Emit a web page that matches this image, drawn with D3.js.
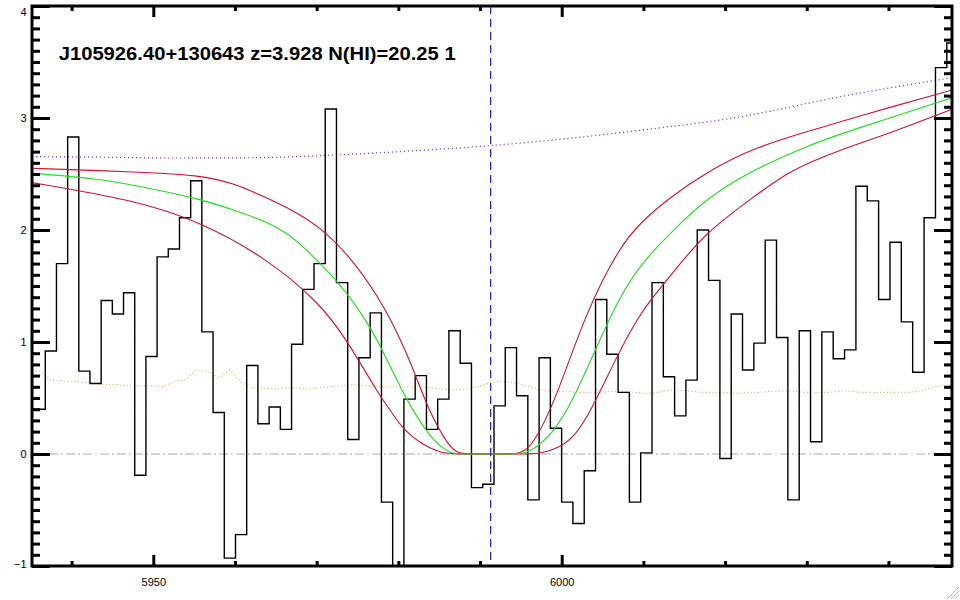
<!DOCTYPE html>
<html><head><meta charset="utf-8">
<script src="https://cdn.jsdelivr.net/npm/d3@7"></script>
<style>
html,body{margin:0;padding:0;background:#fff;}
svg{display:block;font-family:"Liberation Sans",Arial,Helvetica,sans-serif;}
</style></head><body>
<svg id="c" width="960" height="600"></svg>
<script>
// ---- data ----
const titleText = "J105926.40+130643 z=3.928 N(HI)=20.25 1";
const xDomain = [5935.15, 6047.78];
const yDomain = [-1, 4];
const xMajorTicks = [5950, 6000];
const xMinorTicks = [5940, 5960, 5970, 5980, 5990, 6010, 6020, 6030, 6040];
const yMajorTicks = [-1, 0, 1, 2, 3, 4];
const lyaLine = 5991.3;

const wave = [5934.73, 5936.09, 5937.46, 5938.83, 5940.20, 5941.56, 5942.93, 5944.30, 5945.67, 5947.04,
  5948.41, 5949.78, 5951.15, 5952.52, 5953.89, 5955.26, 5956.63, 5958.00, 5959.38, 5960.75,
  5962.12, 5963.49, 5964.87, 5966.24, 5967.61, 5968.99, 5970.36, 5971.74, 5973.11, 5974.49,
  5975.86, 5977.24, 5978.62, 5979.99, 5981.37, 5982.75, 5984.13, 5985.50, 5986.88, 5988.26,
  5989.64, 5991.02, 5992.40, 5993.78, 5995.16, 5996.54, 5997.92, 5999.30, 6000.68, 6002.06,
  6003.45, 6004.83, 6006.21, 6007.59, 6008.98, 6010.36, 6011.75, 6013.13, 6014.51, 6015.90,
  6017.28, 6018.67, 6020.06, 6021.44, 6022.83, 6024.22, 6025.60, 6026.99, 6028.38, 6029.77,
  6031.15, 6032.54, 6033.93, 6035.32, 6036.71, 6038.10, 6039.49, 6040.88, 6042.27, 6043.66,
  6045.06, 6046.45, 6047.84, 6049.23];

const flux = [0.40, 0.40, 0.92, 1.70, 2.83, 0.74, 0.63, 1.37, 1.25, 1.44,
  -0.19, 0.87, 1.76, 1.83, 2.11, 2.44, 1.09, 0.37, -0.93, -0.72,
  0.79, 0.27, 0.42, 0.22, 0.98, 1.47, 1.70, 3.08, 1.53, 0.13,
  0.86, 1.26, -0.43, -1.25, 0.49, 0.70, 0.22, 0.49, 1.10, 0.81,
  -0.30, -0.27, 0.43, 0.95, 0.52, -0.41, 0.86, 0.23, -0.43, -0.62,
  -0.15, 1.38, 0.89, 0.55, -0.43, 0.01, 1.53, 0.69, 0.34, 0.66,
  2.00, 1.55, -0.04, 1.25, 0.75, 0.99, 1.91, 1.04, -0.41, 1.10,
  0.11, 1.09, 0.85, 0.93, 2.39, 2.26, 1.38, 1.89, 1.18, 0.73,
  2.11, 3.45, 3.67, 3.67];

const fluxErr = [0.74, 0.74, 0.66, 0.65, 0.65, 0.64, 0.63, 0.62, 0.62, 0.61,
  0.61, 0.61, 0.60, 0.65, 0.66, 0.75, 0.74, 0.68, 0.75, 0.64,
  0.59, 0.59, 0.58, 0.59, 0.59, 0.58, 0.59, 0.60, 0.61, 0.62,
  0.61, 0.60, 0.60, 0.60, 0.60, 0.60, 0.59, 0.58, 0.57, 0.58,
  0.60, 0.63, 0.65, 0.64, 0.62, 0.59, 0.57, 0.56, 0.56, 0.55,
  0.55, 0.55, 0.56, 0.56, 0.55, 0.54, 0.55, 0.57, 0.57, 0.56,
  0.55, 0.55, 0.55, 0.54, 0.55, 0.55, 0.56, 0.56, 0.56, 0.55,
  0.55, 0.55, 0.56, 0.56, 0.55, 0.55, 0.55, 0.55, 0.55, 0.56,
  0.59, 0.61, 0.62, 0.62];

// continuum (purple dotted)
const contWave = [5935.15, 5943.48, 5952.04, 5961.84, 5970.41, 5980.20, 5991.22, 5999.79, 6009.58, 6021.83, 6034.07, 6047.78];
const contFlux = [2.655, 2.650, 2.643, 2.645, 2.664, 2.700, 2.753, 2.810, 2.890, 3.010, 3.190, 3.360];

// model (green)
const modelWave = [5935.15, 5943.48, 5947.52, 5955.72, 5959.79, 5963.88, 5966.33, 5968.36, 5970.41, 5972.45,
  5974.49, 5976.53, 5978.57, 5981.02, 5982.65, 5984.28, 5985.92, 5986.94, 5988.50, 5990.50,
  5992.50, 5994.49, 5995.50, 5996.52,
  5998.97, 6001.42, 6004.28, 6007.13, 6009.58, 6013.66, 6017.33, 6021.83, 6029.99, 6038.15, 6047.78];
const modelFlux = [2.507, 2.456, 2.402, 2.278, 2.180, 2.075, 1.975, 1.850, 1.704, 1.545,
  1.360, 1.140, 0.850, 0.480, 0.290, 0.120, 0.025, 0.000, 0.000, 0.000,
  0.000, 0.000, 0.010, 0.038,
  0.187, 0.484, 0.960, 1.406, 1.689, 2.000, 2.253, 2.476, 2.759, 2.953, 3.180];

// upper model (red)
const upperWave = [5935.15, 5947.52, 5955.72, 5960.12, 5963.47, 5966.98, 5970.41, 5974.49, 5978.57, 5981.02,
  5982.65, 5983.87, 5985.92, 5987.00, 5987.95, 5990.00, 5992.50, 5994.49, 5995.50, 5996.52, 5998.97, 6003.06, 6007.13,
  6009.58, 6012.85, 6017.75, 6023.87, 6029.99, 6036.11, 6047.78];
const upperFlux = [2.551, 2.520, 2.492, 2.410, 2.300, 2.180, 2.030, 1.733, 1.287, 0.900,
  0.600, 0.370, 0.098, 0.020, 0.000, 0.000, 0.000, 0.000, 0.030, 0.098, 0.425, 1.287, 1.852,
  2.060, 2.270, 2.520, 2.744, 2.878, 3.012, 3.250];

// lower model (red)
const lowerWave = [5935.15, 5947.55, 5955.72, 5963.88, 5970.41, 5973.68, 5977.75, 5978.98, 5980.61, 5982.65,
  5985.10, 5986.94, 5989.50, 5992.00, 5994.50, 5997.34, 5998.97, 6001.42, 6003.87, 6006.73, 6009.58, 6012.24, 6013.66,
  6017.75, 6023.05, 6027.95, 6034.07, 6040.19, 6047.78];
const lowerFlux = [2.423, 2.270, 2.075, 1.748, 1.347, 1.020, 0.514, 0.396, 0.217, 0.098,
  0.009, 0.000, 0.000, 0.000, 0.000, 0.000, 0.038, 0.128, 0.425, 0.870, 1.258, 1.495, 1.626,
  1.986, 2.270, 2.536, 2.715, 2.864, 3.078];

// ---- drawing ----
const L = 32, R = 952, T = 6, B = 566;
const svg = d3.select("#c");
const x = d3.scaleLinear().domain(xDomain).range([L, R]);
const y = d3.scaleLinear().domain(yDomain).range([B, T]);

svg.append("defs").append("clipPath").attr("id", "clip")
  .append("rect").attr("x", L).attr("y", T).attr("width", R - L).attr("height", B - T);

const plot = svg.append("g").attr("clip-path", "url(#clip)");

const zip = (a, b) => a.map((v, i) => [v, b[i]]);

// zero line
plot.append("line").attr("x1", L).attr("x2", R).attr("y1", y(0)).attr("y2", y(0))
  .attr("stroke", "#a8a8a8").attr("stroke-width", 1).attr("stroke-dasharray", "9,3,2,3");

// error spectrum
plot.append("path").datum(zip(wave, fluxErr))
  .attr("d", d3.line().x(d => x(d[0])).y(d => y(d[1])))
  .attr("fill", "none").attr("stroke", "#e6a24e").attr("stroke-width", 1.1)
  .attr("stroke-dasharray", "1,2.5");

// continuum
plot.append("path").datum(zip(contWave, contFlux))
  .attr("d", d3.line().x(d => x(d[0])).y(d => y(d[1])).curve(d3.curveMonotoneX))
  .attr("fill", "none").attr("stroke", "#7a36d6").attr("stroke-width", 1.2)
  .attr("stroke-dasharray", "1.2,2.8");

// flux histogram
plot.append("path").datum(zip(wave, flux))
  .attr("d", d3.line().x(d => x(d[0])).y(d => y(d[1])).curve(d3.curveStep))
  .attr("fill", "none").attr("stroke", "#000").attr("stroke-width", 1.4);

// model curves
const smooth = d3.line().x(d => x(d[0])).y(d => y(d[1])).curve(d3.curveBasis);
plot.append("path").datum(zip(upperWave, upperFlux)).attr("d", smooth)
  .attr("fill", "none").attr("stroke", "#d0122e").attr("stroke-width", 1.1);
plot.append("path").datum(zip(lowerWave, lowerFlux)).attr("d", smooth)
  .attr("fill", "none").attr("stroke", "#d0122e").attr("stroke-width", 1.1);
plot.append("path").datum(zip(modelWave, modelFlux)).attr("d", smooth)
  .attr("fill", "none").attr("stroke", "#1ede1e").attr("stroke-width", 1.1);

// Lya line
plot.append("line").attr("x1", x(lyaLine)).attr("x2", x(lyaLine)).attr("y1", T).attr("y2", B)
  .attr("stroke", "#1a1ad0").attr("stroke-width", 1.2).attr("stroke-dasharray", "8,5");

// ---- axes ----
const yMinorTicks = d3.range(-10, 41).map(i => i / 10).filter(v => !yMajorTicks.some(m => Math.abs(m - v) < 1e-9));
function styleAxis(g) {
  g.select(".domain").remove();
  g.selectAll(".tick line").attr("stroke", "#000").attr("stroke-width", 3);
}
// bottom
svg.append("g").attr("transform", `translate(0,${B})`)
  .call(d3.axisTop(x).tickValues(xMinorTicks).tickSize(5).tickFormat("")).call(styleAxis);
svg.append("g").attr("transform", `translate(0,${B})`)
  .call(d3.axisTop(x).tickValues(xMajorTicks).tickSize(11).tickFormat("")).call(styleAxis);
const xl = svg.append("g").attr("transform", `translate(0,${B})`)
  .call(d3.axisBottom(x).tickValues(xMajorTicks).tickSize(0).tickPadding(12).tickFormat(d3.format("d")));
xl.select(".domain").remove();
xl.selectAll("text").attr("font-size", 11).attr("fill", "#000")
  .attr("font-family", "'Liberation Sans',Arial,sans-serif");
// top
svg.append("g").attr("transform", `translate(0,${T})`)
  .call(d3.axisBottom(x).tickValues(xMinorTicks).tickSize(5).tickFormat("")).call(styleAxis);
svg.append("g").attr("transform", `translate(0,${T})`)
  .call(d3.axisBottom(x).tickValues(xMajorTicks).tickSize(11).tickFormat("")).call(styleAxis);
// left
svg.append("g").attr("transform", `translate(${L},0)`)
  .call(d3.axisRight(y).tickValues(yMinorTicks).tickSize(8).tickFormat("")).call(styleAxis);
svg.append("g").attr("transform", `translate(${L},0)`)
  .call(d3.axisRight(y).tickValues(yMajorTicks).tickSize(18).tickFormat("")).call(styleAxis);
const yl = svg.append("g").attr("transform", `translate(${L},0)`)
  .call(d3.axisLeft(y).tickValues(yMajorTicks).tickSize(0).tickPadding(5.5).tickFormat(d3.format("d")));
yl.select(".domain").remove();
yl.selectAll("text").attr("font-size", 11).attr("fill", "#000")
  .attr("font-family", "'Liberation Sans',Arial,sans-serif")
  .attr("dy", d => d === 4 ? "0.85em" : (d === -1 ? "0.1em" : "0.36em"));
// right
svg.append("g").attr("transform", `translate(${R},0)`)
  .call(d3.axisLeft(y).tickValues(yMinorTicks).tickSize(8).tickFormat("")).call(styleAxis);
svg.append("g").attr("transform", `translate(${R},0)`)
  .call(d3.axisLeft(y).tickValues(yMajorTicks).tickSize(18).tickFormat("")).call(styleAxis);

// frame
svg.append("rect").attr("x", L).attr("y", T).attr("width", R - L).attr("height", B - T)
  .attr("fill", "none").attr("stroke", "#000").attr("stroke-width", 3);

// title
svg.append("text").attr("x", 58.7).attr("y", 59.5)
  .attr("font-size", 18).attr("font-weight", "bold").attr("fill", "#000")
  .attr("font-family", "'Liberation Sans',Arial,sans-serif")
  .attr("textLength", 397).attr("lengthAdjust", "spacingAndGlyphs")
  .text(titleText);

// window resize grip
const grip = svg.append("g").attr("stroke", "#b8b8b8").attr("stroke-width", 1);
[[959, 587, 947, 599], [959, 591, 951, 599], [959, 595, 955, 599]].forEach(s =>
  grip.append("line").attr("x1", s[0]).attr("y1", s[1]).attr("x2", s[2]).attr("y2", s[3]));
</script>
</body></html>
